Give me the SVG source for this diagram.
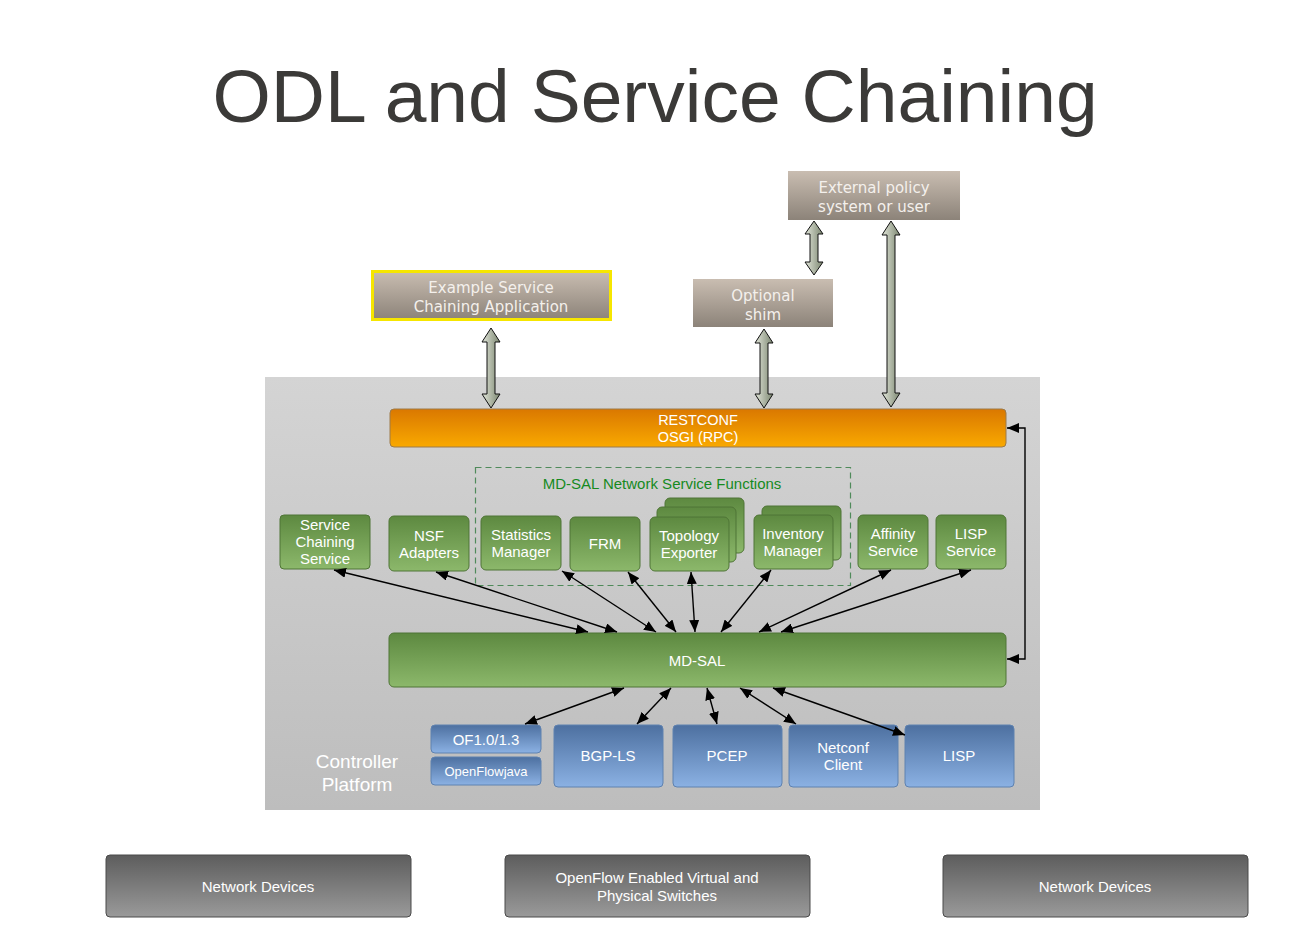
<svg xmlns="http://www.w3.org/2000/svg" width="1310" height="932" viewBox="0 0 1310 932">
<defs>
<linearGradient id="gPlat" x1="0" y1="0" x2="0" y2="1"><stop offset="0" stop-color="#d4d4d4"/><stop offset="1" stop-color="#bdbdbd"/></linearGradient>
<linearGradient id="gBrown" x1="0" y1="0" x2="0" y2="1"><stop offset="0" stop-color="#c9bdb1"/><stop offset="1" stop-color="#8c8379"/></linearGradient>
<linearGradient id="gOrange" x1="0" y1="0" x2="0" y2="1"><stop offset="0" stop-color="#da7800"/><stop offset="1" stop-color="#f9a900"/></linearGradient>
<linearGradient id="gGreen" x1="0" y1="0" x2="0" y2="1"><stop offset="0" stop-color="#5d8940"/><stop offset="1" stop-color="#8cb86b"/></linearGradient>
<linearGradient id="gBlue" x1="0" y1="0" x2="0" y2="1"><stop offset="0" stop-color="#4d70a0"/><stop offset="1" stop-color="#8bb1e3"/></linearGradient>
<linearGradient id="gDark" x1="0" y1="0" x2="0" y2="1"><stop offset="0" stop-color="#5d5d5d"/><stop offset="1" stop-color="#9a9a9a"/></linearGradient>
<linearGradient id="gFat" x1="0" y1="0" x2="1" y2="0"><stop offset="0" stop-color="#e2e6da"/><stop offset="1" stop-color="#7b8670"/></linearGradient>
<marker id="ah" viewBox="0 0 12 10" refX="12" refY="5" markerWidth="12" markerHeight="10" markerUnits="userSpaceOnUse" orient="auto-start-reverse"><path d="M0,0 L12,5 L0,10 Z" fill="#000"/></marker>
</defs>
<style>
.t{font-family:"Liberation Sans",Arial,sans-serif;fill:#fff;text-anchor:middle}
.dv{font-family:"DejaVu Sans",Verdana,sans-serif;fill:#f4f0ec;text-anchor:middle;font-size:15px}
.brown{fill:url(#gBrown)}
.green{fill:url(#gGreen);stroke:#4f7536;stroke-width:1}
.blue{fill:url(#gBlue);stroke:#5f82b0;stroke-width:1}
.dark{fill:url(#gDark);stroke:#4a4a4a;stroke-width:1}
.fat{fill:url(#gFat);stroke:#111;stroke-width:1}
.c{stroke:#000;stroke-width:1.4;fill:none;marker-start:url(#ah);marker-end:url(#ah)}
</style>
<rect width="1310" height="932" fill="#fff"/>
<text x="655" y="122" style="font-family:'Liberation Sans',Arial,sans-serif;font-size:75px;fill:#3b3a38;text-anchor:middle">ODL and Service Chaining</text>

<g id="platform">
<rect x="265" y="377" width="775" height="433" fill="url(#gPlat)"/>
<text class="t" x="357" y="768" font-size="19">Controller</text>
<text class="t" x="357" y="791" font-size="19">Platform</text>
</g>

<g id="external-policy"><rect class="brown" x="788" y="171" width="172" height="49"/><text class="dv" x="874" y="193">External policy</text><text class="dv" x="874" y="212">system or user</text></g>
<g id="example-app"><rect class="brown" x="372.5" y="271.5" width="238" height="48" stroke="#f6e600" stroke-width="3"/><text class="dv" x="491" y="293">Example Service</text><text class="dv" x="491" y="312">Chaining Application</text></g>
<g id="optional-shim"><rect class="brown" x="693" y="279" width="140" height="48"/><text class="dv" x="763" y="301">Optional</text><text class="dv" x="763" y="320">shim</text></g>

<g id="restconf"><rect x="390" y="409" width="616" height="38" rx="4" fill="url(#gOrange)" stroke="#9c7a4a" stroke-width="1"/><text class="t" x="698" y="425" font-size="14.5">RESTCONF</text><text class="t" x="698" y="442" font-size="14.5">OSGI (RPC)</text></g>

<g id="nsf-group"><rect x="475.5" y="467.5" width="375" height="118" fill="none" stroke="#4f8a5a" stroke-width="1.2" stroke-dasharray="6,4"/><text x="662" y="489" style="font-family:'Liberation Sans',Arial,sans-serif;font-size:15px;fill:#168a1e;text-anchor:middle">MD-SAL Network Service Functions</text></g>

<g id="service-chaining-service"><rect class="green" x="280" y="515" width="90" height="54" rx="4" stroke="#f6e600" stroke-width="3"/><text class="t" x="325" y="530" font-size="15">Service</text><text class="t" x="325" y="547" font-size="15">Chaining</text><text class="t" x="325" y="564" font-size="15">Service</text></g>
<g id="nsf-adapters"><rect class="green" x="389" y="516" width="80" height="55" rx="5"/><text class="t" x="429" y="541" font-size="15">NSF</text><text class="t" x="429" y="558" font-size="15">Adapters</text></g>
<g id="statistics-manager"><rect class="green" x="481" y="516" width="80" height="54" rx="5"/><text class="t" x="521" y="540" font-size="15">Statistics</text><text class="t" x="521" y="557" font-size="15">Manager</text></g>
<g id="frm"><rect class="green" x="570" y="517" width="70" height="54" rx="5"/><text class="t" x="605" y="549" font-size="15">FRM</text></g>
<g id="topology-exporter"><rect class="green" x="665" y="498" width="79" height="55" rx="5"/><rect class="green" x="657" y="507" width="79" height="55" rx="5"/><rect class="green" x="650" y="517" width="79" height="54" rx="5"/><text class="t" x="689" y="541" font-size="15">Topology</text><text class="t" x="689" y="558" font-size="15">Exporter</text></g>
<g id="inventory-manager"><rect class="green" x="762" y="506" width="79" height="54" rx="5"/><rect class="green" x="754" y="515" width="79" height="54" rx="5"/><text class="t" x="793" y="539" font-size="15">Inventory</text><text class="t" x="793" y="556" font-size="15">Manager</text></g>
<g id="affinity-service"><rect class="green" x="858" y="515" width="70" height="54" rx="5"/><text class="t" x="893" y="539" font-size="15">Affinity</text><text class="t" x="893" y="556" font-size="15">Service</text></g>
<g id="lisp-service"><rect class="green" x="936" y="515" width="70" height="54" rx="5"/><text class="t" x="971" y="539" font-size="15">LISP</text><text class="t" x="971" y="556" font-size="15">Service</text></g>

<g id="md-sal"><rect class="green" x="389" y="633" width="617" height="54" rx="5"/><text class="t" x="697" y="666" font-size="15">MD-SAL</text></g>

<g id="of"><rect class="blue" x="431" y="725" width="110" height="28" rx="4"/><text class="t" x="486" y="745" font-size="15">OF1.0/1.3</text></g>
<g id="openflowjava"><rect class="blue" x="431" y="757" width="110" height="28" rx="4"/><text class="t" x="486" y="776" font-size="13">OpenFlowjava</text></g>
<g id="bgp-ls"><rect class="blue" x="554" y="725" width="109" height="62" rx="4"/><text class="t" x="608" y="761" font-size="15">BGP-LS</text></g>
<g id="pcep"><rect class="blue" x="673" y="725" width="109" height="62" rx="4"/><text class="t" x="727" y="761" font-size="15">PCEP</text></g>
<g id="netconf"><rect class="blue" x="789" y="725" width="109" height="62" rx="4"/><text class="t" x="843" y="753" font-size="15">Netconf</text><text class="t" x="843" y="770" font-size="15">Client</text></g>
<g id="lisp"><rect class="blue" x="905" y="725" width="109" height="62" rx="4"/><text class="t" x="959" y="761" font-size="15">LISP</text></g>

<g id="nd-left"><rect class="dark" x="106" y="855" width="305" height="62" rx="4"/><text class="t" x="258" y="892" font-size="15">Network Devices</text></g>
<g id="of-switches"><rect class="dark" x="505" y="855" width="305" height="62" rx="4"/><text class="t" x="657" y="883" font-size="15">OpenFlow Enabled Virtual and</text><text class="t" x="657" y="901" font-size="15">Physical Switches</text></g>
<g id="nd-right"><rect class="dark" x="943" y="855" width="305" height="62" rx="4"/><text class="t" x="1095" y="892" font-size="15">Network Devices</text></g>

<g id="connectors">
<path class="fat" d="M491,328 L500,342 L495,342 L495,394 L500,394 L491,408 L482,394 L487,394 L487,342 L482,342 Z"/>
<path class="fat" d="M764,329 L773,343 L768,343 L768,394 L773,394 L764,408 L755,394 L760,394 L760,343 L755,343 Z"/>
<path class="fat" d="M814,221 L823,234 L818,234 L818,262 L823,262 L814,275 L805,262 L810,262 L810,234 L805,234 Z"/>
<path class="fat" d="M891,221 L900,235 L895,235 L895,393 L900,393 L891,407 L882,393 L887,393 L887,235 L882,235 Z"/>
<line class="c" x1="334" y1="570" x2="588" y2="632"/>
<line class="c" x1="436" y1="572" x2="617" y2="632"/>
<line class="c" x1="562" y1="571" x2="656" y2="632"/>
<line class="c" x1="628" y1="572" x2="676" y2="632"/>
<line class="c" x1="691" y1="572" x2="695" y2="632"/>
<line class="c" x1="771" y1="570" x2="721" y2="632"/>
<line class="c" x1="891" y1="570" x2="759" y2="632"/>
<line class="c" x1="971" y1="570" x2="781" y2="632"/>
<line class="c" x1="624" y1="688" x2="525" y2="724"/>
<line class="c" x1="671" y1="688" x2="637" y2="724"/>
<line class="c" x1="707" y1="688" x2="717" y2="724"/>
<line class="c" x1="740" y1="688" x2="796" y2="724"/>
<line class="c" x1="773" y1="688" x2="905" y2="735"/>
<polyline class="c" points="1007,428 1025,428 1025,659 1007,659"/>
</g>
</svg>
